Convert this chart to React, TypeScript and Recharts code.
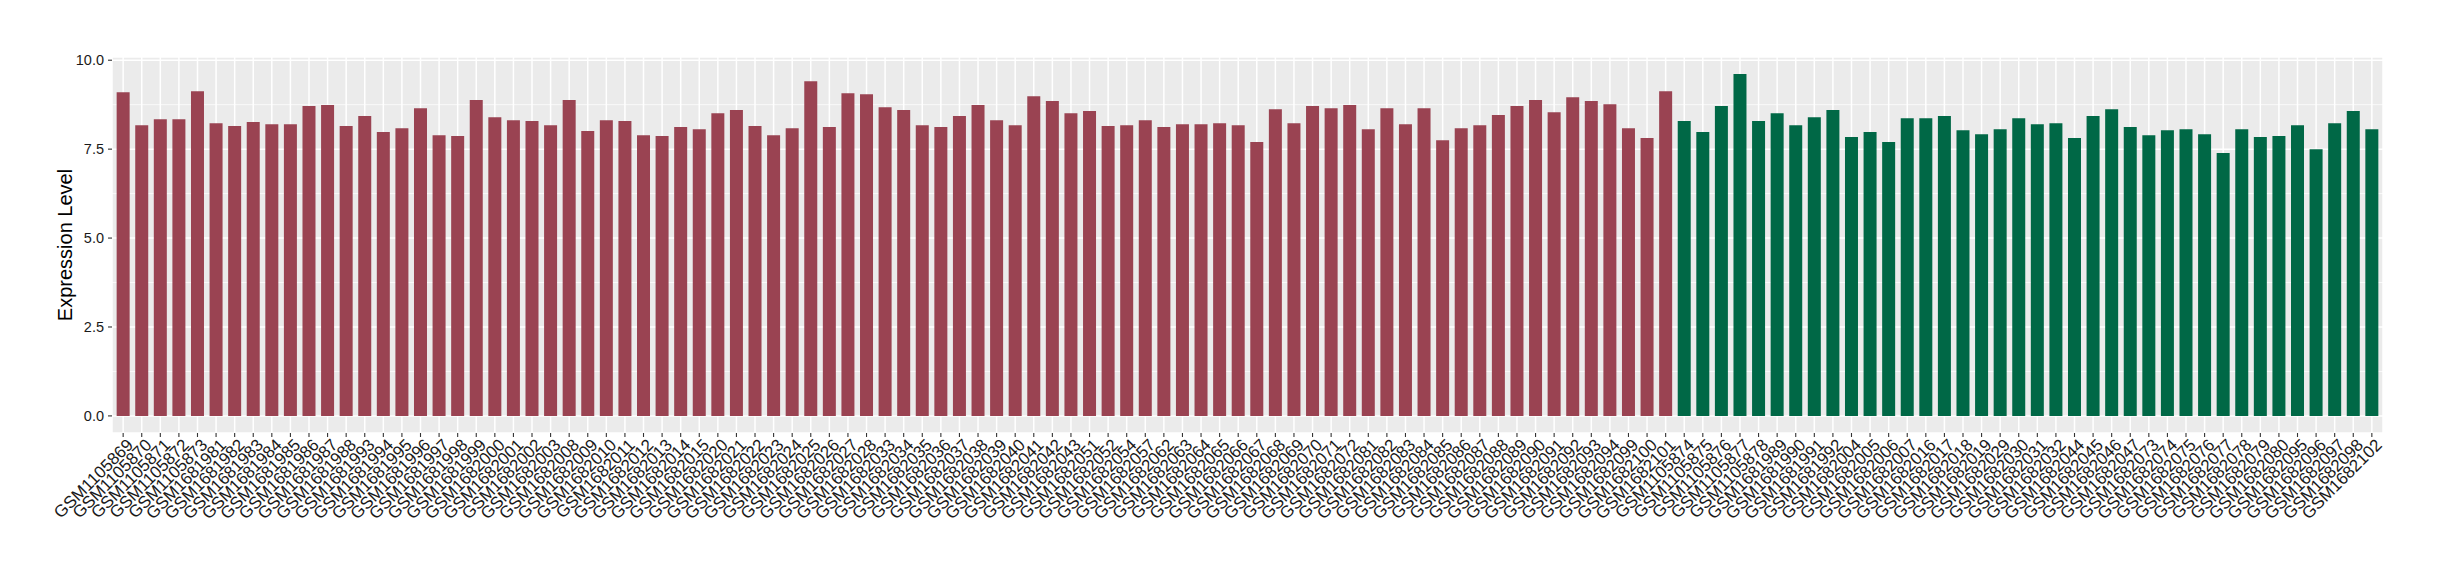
import React from 'react';
import { BarChart, Bar, XAxis, YAxis, CartesianGrid, Cell } from 'recharts';

const groupASamples = [
  'GSM1105869','GSM1105870','GSM1105871','GSM1105872','GSM1105873',
  'GSM1681981','GSM1681982','GSM1681983','GSM1681984','GSM1681985','GSM1681986','GSM1681987','GSM1681988',
  'GSM1681993','GSM1681994','GSM1681995','GSM1681996','GSM1681997','GSM1681998','GSM1681999',
  'GSM1682000','GSM1682001','GSM1682002','GSM1682003',
  'GSM1682008','GSM1682009','GSM1682010','GSM1682011','GSM1682012','GSM1682013','GSM1682014','GSM1682015',
  'GSM1682020','GSM1682021','GSM1682022','GSM1682023','GSM1682024','GSM1682025','GSM1682026','GSM1682027','GSM1682028',
  'GSM1682033','GSM1682034','GSM1682035','GSM1682036','GSM1682037','GSM1682038','GSM1682039','GSM1682040','GSM1682041','GSM1682042','GSM1682043',
  'GSM1682051','GSM1682052','GSM1682054','GSM1682057',
  'GSM1682062','GSM1682063','GSM1682064','GSM1682065','GSM1682066','GSM1682067','GSM1682068','GSM1682069','GSM1682070','GSM1682071','GSM1682072',
  'GSM1682081','GSM1682082','GSM1682083','GSM1682084','GSM1682085','GSM1682086','GSM1682087','GSM1682088','GSM1682089','GSM1682090','GSM1682091','GSM1682092','GSM1682093','GSM1682094',
  'GSM1682099','GSM1682100','GSM1682101',
];

const groupAValues = [
  9.10, 8.17, 8.34, 8.34, 9.13,
  8.23, 8.15, 8.26, 8.20, 8.20, 8.71, 8.74, 8.15,
  8.43, 7.98, 8.09, 8.65, 7.89, 7.87, 8.88,
  8.40, 8.31, 8.29, 8.17,
  8.88, 8.01, 8.31, 8.29, 7.89, 7.87, 8.12, 8.06,
  8.51, 8.60, 8.15, 7.89, 8.09, 9.41, 8.12, 9.07, 9.04,
  8.68, 8.60, 8.17, 8.12, 8.43, 8.74, 8.31, 8.17, 8.99, 8.85, 8.51,
  8.57, 8.15, 8.17, 8.31,
  8.12, 8.20, 8.20, 8.23, 8.17, 7.70, 8.62, 8.23, 8.71, 8.65, 8.74,
  8.06, 8.65, 8.20, 8.65, 7.75, 8.09, 8.17, 8.46, 8.71, 8.88, 8.54, 8.96, 8.85, 8.76,
  8.09, 7.81, 9.13,
];

const groupBSamples = [
  'GSM1105874','GSM1105875','GSM1105876','GSM1105877','GSM1105878',
  'GSM1681989','GSM1681990','GSM1681991','GSM1681992',
  'GSM1682004','GSM1682005','GSM1682006','GSM1682007',
  'GSM1682016','GSM1682017','GSM1682018','GSM1682019',
  'GSM1682029','GSM1682030','GSM1682031','GSM1682032',
  'GSM1682044','GSM1682045','GSM1682046','GSM1682047',
  'GSM1682073','GSM1682074','GSM1682075','GSM1682076','GSM1682077','GSM1682078','GSM1682079','GSM1682080',
  'GSM1682095','GSM1682096','GSM1682097','GSM1682098','GSM1682102',
];

const groupBValues = [
  8.29, 7.98, 8.71, 9.61, 8.29,
  8.51, 8.17, 8.40, 8.60,
  7.84, 7.98, 7.70, 8.37,
  8.37, 8.43, 8.03, 7.92,
  8.06, 8.37, 8.20, 8.23,
  7.81, 8.43, 8.62, 8.12,
  7.89, 8.03, 8.06, 7.92, 7.39, 8.06, 7.84, 7.87,
  8.17, 7.50, 8.23, 8.57, 8.06,
];

const yTicks = [0, 2.5, 5, 7.5, 10];
const yMinorTicks = [1.25, 3.75, 6.25, 8.75];
const yDomain = [-0.4805, 10.0905];

const COLOR_A = '#9A4352';
const COLOR_B = '#006846';
const FONT = '"Liberation Sans", Arial, Helvetica, sans-serif';
const TEXT_COLOR = '#1A1A1A';

const data = [
  ...groupASamples.map((s, i) => ({ sample: s, value: groupAValues[i], group: 'A' })),
  ...groupBSamples.map((s, i) => ({ sample: s, value: groupBValues[i], group: 'B' })),
];

const minorGridGenerator = (props: any) => {
  const off = props && props.offset ? props.offset : { top: 57, height: 376 };
  const span = yDomain[1] - yDomain[0];
  return yMinorTicks.map((v) => off.top + (off.height * (yDomain[1] - v)) / span);
};

const XTick = (props: any) => {
  const { x, y, payload } = props;
  return (
    <g transform={`translate(${x + 11},${y + 9})`}>
      <text
        x={0}
        y={0}
        transform="rotate(-45)"
        textAnchor="end"
        fill={TEXT_COLOR}
        fontSize={17}
        fontFamily={FONT}
      >
        {payload.value}
      </text>
    </g>
  );
};

const YTitle = (props: any) => {
  const { viewBox } = props;
  const cx = 65;
  const cy = viewBox.y + viewBox.height / 2;
  return (
    <text
      x={cx}
      y={cy}
      transform={`rotate(-90, ${cx}, ${cy})`}
      textAnchor="middle"
      dominantBaseline="central"
      fill="#000000"
      fontSize={20}
      fontFamily={FONT}
    >
      Expression Level
    </text>
  );
};

export default function App() {
  const W = 2440;
  const H = 580;
  return (
    <div style={{ position: 'absolute', left: 0, top: 0, width: W, height: H, background: '#FFFFFF' }}>
      <BarChart
        width={W}
        height={H}
        data={data}
        margin={{ top: 57, right: 57, bottom: 0, left: 0 }}
        barCategoryGap="15%"
      >
        <CartesianGrid fill="#EBEBEB" stroke="#FFFFFF" strokeWidth={1.5} vertical={true} horizontal={true} />
        <CartesianGrid
          stroke="#FFFFFF"
          strokeWidth={0.75}
          vertical={false}
          horizontalCoordinatesGenerator={minorGridGenerator}
        />
        <XAxis
          dataKey="sample"
          type="category"
          interval={0}
          height={147}
          axisLine={false}
          tickLine={{ stroke: '#333333', strokeWidth: 1.1 }}
          tickSize={4}
          tickMargin={0}
          tick={<XTick />}
          padding={{ left: 1.86, right: 1.86 }}
        />
        <YAxis
          type="number"
          domain={yDomain}
          ticks={yTicks}
          allowDataOverflow
          width={112}
          axisLine={false}
          tickLine={{ stroke: '#333333', strokeWidth: 1.1 }}
          tickSize={4}
          tickMargin={4}
          tickFormatter={(v: number) => v.toFixed(1)}
          tick={{ fill: TEXT_COLOR, fontSize: 14.5, fontFamily: FONT }}
          label={<YTitle />}
        />
        <Bar dataKey="value" isAnimationActive={false}>
          {data.map((d, i) => (
            <Cell key={i} fill={d.group === 'A' ? COLOR_A : COLOR_B} />
          ))}
        </Bar>
      </BarChart>
    </div>
  );
}
